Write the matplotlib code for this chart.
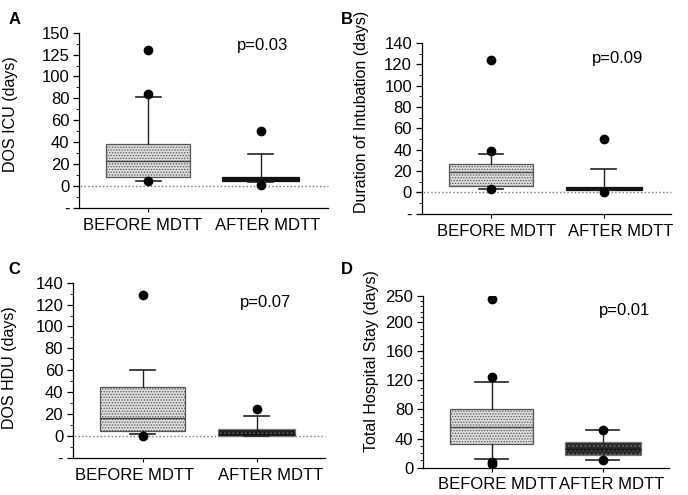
import matplotlib
matplotlib.use("Agg")
import matplotlib.pyplot as plt
import numpy as np

plt.rcParams["font.family"] = ["Liberation Sans", "DejaVu Sans"]
plt.rcParams["hatch.linewidth"] = 0.6

groups = ["BEFORE MDTT", "AFTER MDTT"]

# A - DOS ICU
a_q1 = [8, 5]
a_med = [23, 6.5]
a_q3 = [38, 8]
a_lo = [5, 4]
a_hi = [81, 29]
a_fliers = [[130, 84, 4.5], [50, 0.5]]
a_ticks = [-20, 0, 20, 40, 60, 80, 100, 125, 150]
a_labels = ["-", "0", "20", "40", "60", "80", "100", "125", "150"]

# B - duration of intubation
b_q1 = [6.5, 2]
b_med = [19, 4]
b_q3 = [26.5, 5.5]
b_lo = [3.7, 2]
b_hi = [35.7, 22]
b_fliers = [[124, 38.5, 3], [50.5, 0.3]]
b_ticks = [-20, 0, 20, 40, 60, 80, 100, 120, 140]
b_labels = ["-", "0", "20", "40", "60", "80", "100", "120", "140"]

# C - DOS HDU
c_q1 = [4.6, 0]
c_med = [16.3, 2]
c_q3 = [45, 6.8]
c_lo = [2, 0]
c_hi = [60.3, 18.5]
c_fliers = [[129, 0.3], [24.6]]
c_ticks = [-20, 0, 20, 40, 60, 80, 100, 120, 140]
c_labels = ["-", "0", "20", "40", "60", "80", "100", "120", "140"]

# D - total hospital stay
d_q1 = [32, 17.4]
d_med = [56.5, 26]
d_q3 = [80, 36]
d_lo = [12, 10]
d_hi = [117, 52]
d_fliers = [[245, 124, 8.5, 5.5], [52, 10]]
d_ticks = [0, 40, 80, 120, 160, 200, 250]
d_labels = ["0", "40", "80", "120", "160", "200", "250"]

panels = [
    ("A", "DOS ICU (days)", "p=0.03", a_q1, a_med, a_q3, a_lo, a_hi, a_fliers, a_ticks, a_labels),
    ("B", "Duration of Intubation (days)", "p=0.09", b_q1, b_med, b_q3, b_lo, b_hi, b_fliers, b_ticks, b_labels),
    ("C", "DOS HDU (days)", "p=0.07", c_q1, c_med, c_q3, c_lo, c_hi, c_fliers, c_ticks, c_labels),
    ("D", "Total Hospital Stay (days)", "p=0.01", d_q1, d_med, d_q3, d_lo, d_hi, d_fliers, d_ticks, d_labels),
]

# layout (figure fractions)
rects = [
    [0.115, 0.580, 0.362, 0.354],
    [0.613, 0.568, 0.363, 0.345],
    [0.106, 0.075, 0.366, 0.354],
    [0.615, 0.055, 0.358, 0.347],
]
tick_pos = {
    "A": np.arange(9.0),
    "B": np.arange(9.0),
    "C": np.arange(9.0),
    "D": np.array([0, 1, 2, 3, 4, 5, 5.885]),
}
ylab_xy = {"A": (-0.245, 0.537), "B": (-0.212, 0.596), "C": (-0.222, 0.514), "D": (-0.179, 0.622)}
ptext_xy = {"A": (2.02, 135), "B": (2.12, 126), "C": (2.08, 121.5), "D": (2.2, 221)}
# the scanned labels sit a bit off their ticks
xlab_x = {"A": (0.95, 2.06), "B": (1.05, 2.15), "C": (0.93, 2.12), "D": (1.05, 2.08)}
letter_xy = {"A": (0.012, 0.975), "B": (0.496, 0.975), "C": (0.012, 0.47), "D": (0.496, 0.47)}
after_face = {"A": "#111111", "B": "#111111", "C": "#1c1c1c", "D": "#2a2a2a"}

fig = plt.figure(figsize=(6.88, 4.95), dpi=100)

for (key, ylab, ptxt, q1, med, q3, lo, hi, fl, ticks, labels), rect in zip(panels, rects):
    ax = fig.add_axes(rect)
    pos = tick_pos[key]
    tv = np.array(ticks, dtype=float)

    def fwd(v, tv=tv, pos=pos):
        return np.interp(v, tv, pos)

    def inv(p, tv=tv, pos=pos):
        return np.interp(p, pos, tv)

    ax.set_yscale("function", functions=(fwd, inv))

    stats = []
    for i in range(2):
        stats.append({
            "q1": q1[i], "med": med[i], "q3": q3[i],
            "whislo": lo[i], "whishi": hi[i], "fliers": fl[i],
        })
    bp = ax.bxp(
        stats, positions=[1, 2], widths=[0.75, 0.68], patch_artist=True,
        showfliers=True, capwidths=[0.22, 0.22] if key != "D" else [0.3, 0.3],
        boxprops=dict(linewidth=0.9, edgecolor="#333333"),
        medianprops=dict(color="#444444", linewidth=1.0),
        whiskerprops=dict(color="#222222", linewidth=1.0),
        capprops=dict(color="#222222", linewidth=1.2),
        flierprops=dict(marker="o", markerfacecolor="black", markeredgecolor="black", markersize=6),
    )
    bp["boxes"][0].set_facecolor("#dcdcdc")
    bp["boxes"][0].set_hatch("......")
    bp["boxes"][0].set_edgecolor("#555555")
    bp["boxes"][1].set_facecolor(after_face[key])
    bp["boxes"][1].set_edgecolor("#111111")
    if key in ("C", "D"):
        bp["boxes"][1].set_hatch("....")
        bp["boxes"][1].set_edgecolor("#777777")
    bp["medians"][1].set_color("#111111")

    ax.set_xlim(0.385, 2.6)
    ax.set_ylim(ticks[0], ticks[-1] + (5 if key == "D" else 0))
    ax.set_yticks(ticks)
    ax.set_yticklabels(labels, fontsize=12)
    if key == "D":
        ax.set_yticks(np.arange(0, 251, 10), minor=True)
    else:
        ax.set_yticks([(ticks[j] + ticks[j + 1]) / 2 for j in range(len(ticks) - 1)], minor=True)
    ax.yaxis.set_minor_formatter(matplotlib.ticker.NullFormatter())
    ax.tick_params(axis="y", which="major", length=4, width=0.9, pad=3)
    ax.tick_params(axis="y", which="minor", length=2, width=0.6)
    ax.set_xticks([1, 2])
    ax.set_xticklabels([])
    ax.tick_params(axis="x", length=3, width=0.8)
    tr = matplotlib.transforms.blended_transform_factory(ax.transData, ax.transAxes)
    for gx, g in zip(xlab_x[key], groups):
        ax.annotate(g, xy=(gx, 0), xycoords=tr, xytext=(0, -7), textcoords="offset points",
                    ha="center", va="top", fontsize=12, annotation_clip=False)

    if key != "D":
        ax.axhline(0, xmin=-0.025, xmax=1.0, color="#777777", linestyle=":", linewidth=1.0,
                   clip_on=False, zorder=0.5)

    for side in ("top", "right"):
        ax.spines[side].set_visible(False)
    ax.spines["left"].set_linewidth(0.9)
    ax.spines["bottom"].set_linewidth(0.9)

    ax.set_ylabel(ylab, fontsize=11.5)
    ax.yaxis.set_label_coords(*ylab_xy[key])
    ax.text(*ptext_xy[key], ptxt, fontsize=12, ha="center", va="center")

    fig.text(*letter_xy[key], key, fontsize=12, fontweight="bold", ha="left", va="top")

fig.savefig("out.png", dpi=100)
